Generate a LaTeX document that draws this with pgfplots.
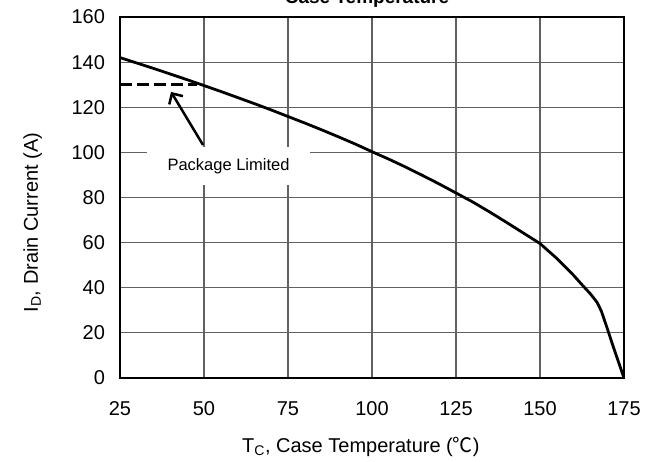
\documentclass[border=0pt]{standalone}
\usepackage{pgfplots}
\pgfplotsset{compat=1.18}
\usetikzlibrary{arrows.meta}
\usepackage{fontspec}
\setmainfont{Liberation Sans}
\newfontfamily\cjk{Noto Sans CJK SC}
\begin{document}
\begin{tikzpicture}
\begin{axis}[name=ax, scale only axis, width=504pt, height=361pt,
 xmin=25, xmax=175, ymin=0, ymax=160,
 xtick={25,50,...,175}, ytick={0,20,...,160},
 grid=major, major grid style={draw=black!62, line width=1.2pt},
 axis line style={line width=1.2pt, black},
 tick style={draw=none},
 /pgf/number format/assume math mode=true,
 ticklabel style={font=\fontsize{20}{22}\selectfont},
 xticklabel style={anchor=base, yshift=-37.5pt},
 yticklabel style={xshift=-11.5pt},
 xlabel={T\textsubscript{C}, Case Temperature ({\cjk ℃})},
 ylabel={I\textsubscript{D}, Drain Current (A)},
 label style={font=\fontsize{20}{22}\selectfont},
 xlabel style={at={(axis description cs:0.478,0)}, anchor=base, yshift=-74.5pt},
 ylabel style={at={(axis description cs:-0.163,0.431)}, anchor=base},
]
\node[fill=white, inner sep=0pt, minimum width=163pt, minimum height=38pt,
      font=\fontsize{16.5}{18}\selectfont] at (axis cs:57.3,94) {Package Limited};
\addplot[black, line width=2.8pt, line join=round] coordinates {
 (25,142) (30,139.6) (35,137.2) (40,134.7) (45,132.2) (50,129.6) (55,127)
 (60,124.3) (65,121.6) (70,118.8) (75,115.9) (80,113) (85,110) (90,106.9)
 (95,103.7) (100,100.3) (105,97) (110,93.5) (115,89.8) (120,86) (125,82)
 (130,78) (135,73.6) (140,69) (145,64.3) (150,59.6) (155,53) (160,45.5)
 (163,40.5) (165,37.3) (167,33.5) (168.3,29.5) (170,22) (172,13) (175,0)
};
\addplot[black, line width=2.5pt, dash pattern=on 12pt off 5pt] coordinates {(25,130) (48,130)};
\draw[line width=2.5pt, -{Straight Barb[length=8pt, width=16pt]}] (axis cs:49.7,103.3) -- (axis cs:40.2,126.8);
\end{axis}
\node[font=\bfseries\fontsize{19}{22}\selectfont, anchor=base] at ([xshift=-5pt, yshift=13pt]ax.north) {Case Temperature};
\pgfresetboundingbox
\path[use as bounding box] ([shift={(-120pt,-84pt)}]ax.south west) rectangle ([shift={(29pt,17pt)}]ax.north east);
\end{tikzpicture}
\end{document}
